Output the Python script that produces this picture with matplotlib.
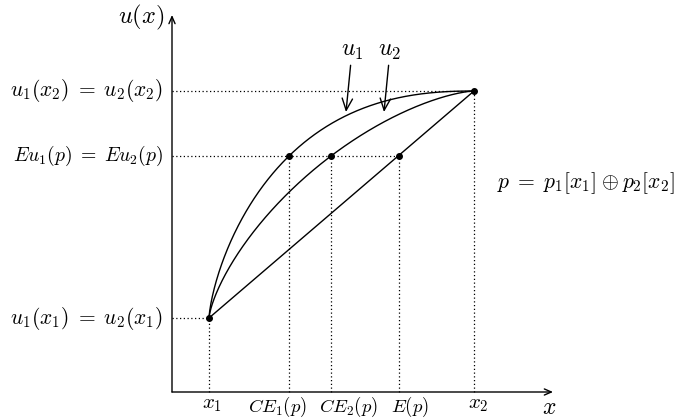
import numpy as np
import matplotlib
matplotlib.use('Agg')
import matplotlib.pyplot as plt

plt.rcParams['mathtext.fontset'] = 'cm'
plt.rcParams['font.family'] = 'DejaVu Serif'

# positions on the x axis (axis origin = 0)
X1, CE1, CE2, EP, X2 = 37, 117, 159, 227, 302
# utility levels
U_LO, EU, U_HI = 74, 236, 301

# label names
xlabels = [r'$x_1$', r'$CE_1(p)$', r'$CE_2(p)$', r'$E(p)$', r'$x_2$']
xlabel_pos = [X1 + 3, CE1 - 11, CE2 + 18, EP + 11, X2 + 4]
xsizes = [15, 13.5, 13.5, 13.5, 15]
ylabels = [r'$u_1(x_1)\;=\;u_2(x_1)$', r'$Eu_1(p)\;=\;Eu_2(p)$', r'$u_1(x_2)\;=\;u_2(x_2)$']
ylevels = [U_LO, EU, U_HI]
ysizes = [15.5, 14.2, 15.5]

fig = plt.figure(figsize=(6.82, 4.19), dpi=100)
ax = fig.add_axes([0, 0, 1, 1])
ax.set_xlim(-172, 510)
ax.set_ylim(-27, 392)
ax.axis('off')

# concave curve u = lo + (hi-lo)*(1-(1-t^a)^b), b chosen to hit the CE point
A = 0.72
def curve(ce):
    t_ce = (ce - X1) / (X2 - X1)
    s_ce = (EU - U_LO) / (U_HI - U_LO)
    b = np.log(1 - s_ce) / np.log(1 - t_ce ** A)
    xs = np.linspace(X1, X2, 400)
    t = (xs - X1) / (X2 - X1)
    return xs, U_LO + (U_HI - U_LO) * (1 - (1 - t ** A) ** b)

lw = 1.0
for ce in (CE1, CE2):
    xs, us = curve(ce)
    ax.plot(xs, us, color='k', lw=lw)
ax.plot([X1, X2], [U_LO, U_HI], color='k', lw=lw)

# dotted guides
dot = dict(color='k', lw=0.9, ls=(0, (1, 2)))
ax.plot([0, X2], [U_HI, U_HI], **dot)
ax.plot([0, EP], [EU, EU], **dot)
ax.plot([0, X1], [U_LO, U_LO], **dot)
ax.plot([X1, X1], [0, U_LO], **dot)
for xv in (CE1, CE2, EP):
    ax.plot([xv, xv], [0, EU], **dot)
ax.plot([X2, X2], [0, U_HI], **dot)

# points
ax.plot([X1, CE1, CE2, EP, X2], [U_LO, EU, EU, EU, U_HI], 'o', color='k', ms=4)

# axes with arrows
arr = dict(arrowstyle='->,head_length=0.5,head_width=0.22', color='k', lw=1.0,
           shrinkA=0, shrinkB=0)
ax.annotate('', xy=(381, 0), xytext=(0, 0), arrowprops=arr)
ax.annotate('', xy=(0, 377), xytext=(0, 0), arrowprops=arr)
ax.text(377, -4, r'$x$', fontsize=17, ha='center', va='top')
ax.text(-8, 375, r'$u(x)$', fontsize=17.5, ha='right', va='center')

for lab, xp, fs in zip(xlabels, xlabel_pos, xsizes):
    ax.text(xp, -3, lab, fontsize=fs, ha='center', va='top')
for lab, yv, fs in zip(ylabels, ylevels, ysizes):
    ax.text(-9, yv, lab, fontsize=fs, ha='right', va='center')

# curve labels with arrows
ax.annotate(r'$u_1$', xy=(174, 280), xytext=(180, 341), fontsize=17,
            ha='center', va='center', arrowprops=arr)
ax.annotate(r'$u_2$', xy=(212, 280), xytext=(218, 341), fontsize=17,
            ha='center', va='center', arrowprops=arr)

ax.text(325, 209, r'$p\;=\;p_1[x_1]\:\oplus\:p_2[x_2]$', fontsize=15.6,
        ha='left', va='center')

fig.savefig('out.png', dpi=100)
